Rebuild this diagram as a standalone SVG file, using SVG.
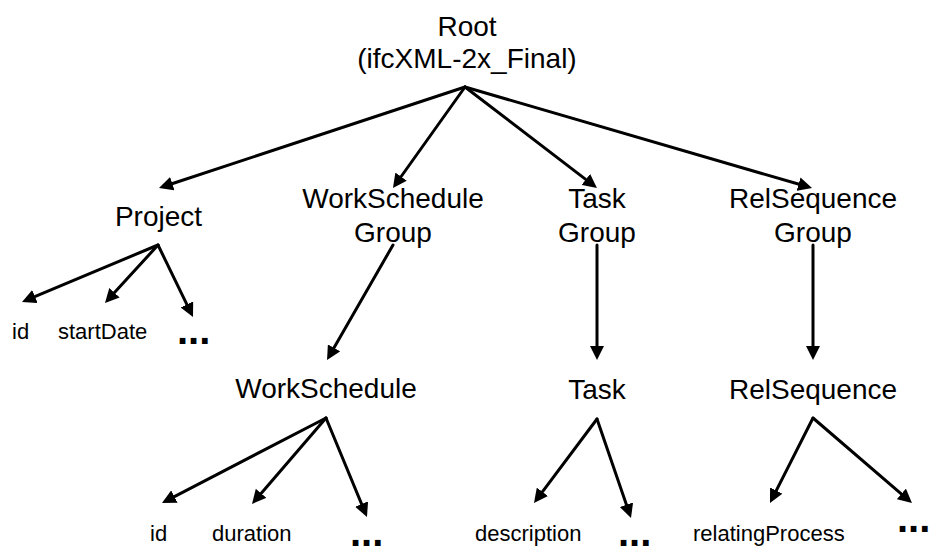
<svg xmlns="http://www.w3.org/2000/svg" width="929" height="547" viewBox="0 0 929 547">
  <style>
    .big { font-family: "Liberation Sans", Arial, sans-serif; font-size: 28px; fill: #000; text-anchor: middle; }
    .small { font-family: "Liberation Sans", Arial, sans-serif; font-size: 22px; fill: #000; }
    .more { font-family: "Liberation Sans", Arial, sans-serif; font-size: 40px; font-weight: bold; fill: #000; }
    .edge { stroke: #000; stroke-width: 3; fill: none; stroke-linecap: round; marker-end: url(#head); }
  </style>
  <defs>
    <marker id="head" markerUnits="userSpaceOnUse" markerWidth="14" markerHeight="14" refX="6" refY="7" orient="auto">
      <path d="M0,0 L14,7 L0,14 z" fill="#000"/>
    </marker>
  </defs>
  <rect width="929" height="547" fill="#fff"/>

  <g id="connectors">
    <line class="edge" x1="465" y1="87" x2="166.6" y2="185.5"/>
    <line class="edge" x1="465" y1="87" x2="397.6" y2="181.5"/>
    <line class="edge" x1="465" y1="87" x2="590.6" y2="183.1"/>
    <line class="edge" x1="465" y1="87" x2="804.3" y2="185.8"/>
    <line class="edge" x1="158" y1="245" x2="29.4" y2="298.9"/>
    <line class="edge" x1="158" y1="245" x2="110.4" y2="297.1"/>
    <line class="edge" x1="158" y1="245" x2="189.5" y2="309.8"/>
    <line class="edge" x1="393" y1="245" x2="331" y2="353.1"/>
    <line class="edge" x1="597" y1="245" x2="597" y2="352"/>
    <line class="edge" x1="813" y1="245" x2="813" y2="352"/>
    <line class="edge" x1="326" y1="418" x2="169.1" y2="499.3"/>
    <line class="edge" x1="326" y1="418" x2="257.2" y2="497.9"/>
    <line class="edge" x1="326" y1="418" x2="363.9" y2="509.6"/>
    <line class="edge" x1="597" y1="419" x2="538.8" y2="496.6"/>
    <line class="edge" x1="597" y1="419" x2="628.4" y2="510.4"/>
    <line class="edge" x1="813" y1="418" x2="773.6" y2="495.9"/>
    <line class="edge" x1="813" y1="418" x2="905.9" y2="497.8"/>
  </g>

  <g id="root">
    <text class="big" x="467" y="36">Root</text>
    <text class="big" x="467" y="68">(ifcXML-2x_Final)</text>
  </g>
  <g id="project">
    <text class="big" x="158.5" y="226">Project</text>
  </g>
  <g id="workschedule-group">
    <text class="big" x="393" y="208">WorkSchedule</text>
    <text class="big" x="393" y="242">Group</text>
  </g>
  <g id="task-group">
    <text class="big" x="597" y="208">Task</text>
    <text class="big" x="597" y="242">Group</text>
  </g>
  <g id="relsequence-group">
    <text class="big" x="813" y="208">RelSequence</text>
    <text class="big" x="813" y="242">Group</text>
  </g>
  <g id="workschedule">
    <text class="big" x="326" y="398">WorkSchedule</text>
  </g>
  <g id="task">
    <text class="big" x="597" y="399">Task</text>
  </g>
  <g id="relsequence">
    <text class="big" x="813" y="399">RelSequence</text>
  </g>

  <g id="project-id"><text class="small" x="12" y="339">id</text></g>
  <g id="project-startdate"><text class="small" x="58" y="339">startDate</text></g>
  <g id="project-more"><text class="more" x="177" y="344">...</text></g>

  <g id="workschedule-id"><text class="small" x="150" y="541">id</text></g>
  <g id="workschedule-duration"><text class="small" x="212" y="541">duration</text></g>
  <g id="workschedule-more"><text class="more" x="350" y="546">...</text></g>

  <g id="task-description"><text class="small" x="475" y="541">description</text></g>
  <g id="task-more"><text class="more" x="618" y="546">...</text></g>

  <g id="relsequence-relatingprocess"><text class="small" x="693" y="541">relatingProcess</text></g>
  <g id="relsequence-more"><text class="more" x="897" y="532">...</text></g>
</svg>
